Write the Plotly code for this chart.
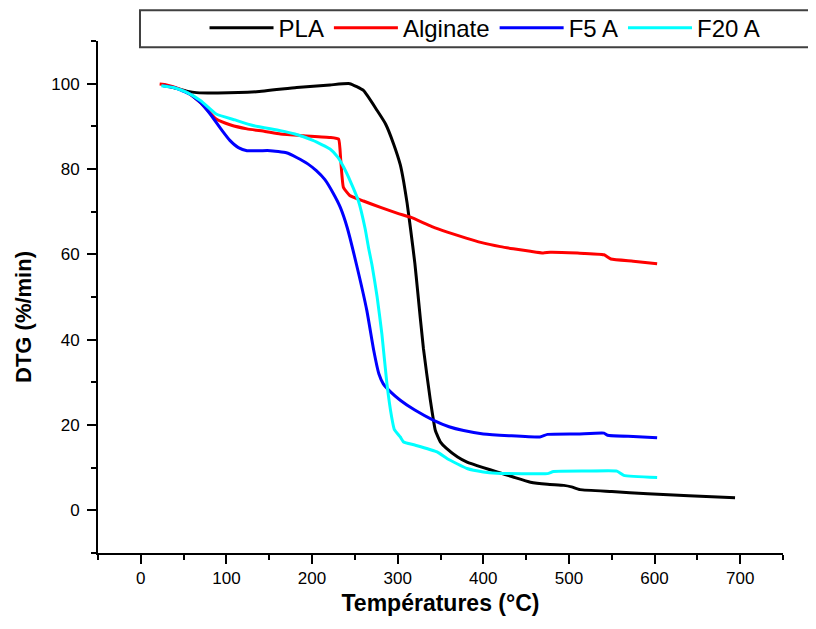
import plotly.graph_objects as go

# ---- data ----
pla_x = [25, 40, 55, 65, 90, 135, 182, 221, 244, 260, 276, 286, 295, 303, 307, 311, 315, 320, 323, 330,
         338, 344, 350, 357, 370, 381, 400, 416, 435, 455, 475, 494, 503, 513, 550, 592, 640, 694]
pla_y = [99.8, 99.0, 98.2, 97.9, 97.8, 98.1, 99.1, 99.7, 100.0, 98.4, 93.7, 90.5, 86.0, 81.0, 77.0, 72.0,
         66.0, 58.0, 52.0, 38.0, 26.0, 18.7, 16.0, 14.5, 12.5, 11.3, 10.0, 9.0, 7.8, 6.6, 6.1, 5.85, 5.5,
         4.85, 4.4, 3.9, 3.4, 2.97]

alg_x = [22, 30, 45, 57, 70, 88, 105, 124, 145, 163, 190, 221, 231, 233.5, 236.6, 244, 260, 280, 300, 315,
         340, 358, 380, 397, 420, 435, 455, 470, 478, 510, 541, 549, 575, 603]
alg_y = [99.9, 99.7, 98.8, 97.6, 95.5, 91.7, 90.3, 89.4, 88.8, 88.2, 87.8, 87.4, 87.0, 82.0, 75.7, 73.8,
         72.5, 71.0, 69.6, 68.7, 66.5, 65.2, 63.8, 62.8, 61.8, 61.3, 60.7, 60.3, 60.5, 60.3, 59.9, 58.9,
         58.4, 57.8]

f5_x = [26, 40, 57, 70, 81, 95, 104, 114, 124, 140, 151, 170, 182, 195, 205, 215, 225, 233, 241, 252, 264,
        272, 278, 283, 292, 303, 320, 342, 360, 377, 400, 430, 466, 475, 510, 541, 545, 575, 603]
f5_y = [99.5, 99.0, 97.6, 95.5, 92.9, 89.0, 86.7, 85.0, 84.3, 84.3, 84.3, 83.8, 82.7, 81.2, 79.6, 77.5,
        74.2, 71.0, 66.3, 57.5, 46.8, 37.5, 32.0, 29.7, 27.7, 25.8, 23.5, 21.1, 19.6, 18.7, 17.9, 17.5,
        17.2, 17.8, 17.9, 18.1, 17.6, 17.3, 17.0]

f20_x = [24, 40, 53, 70, 88, 110, 131, 163, 180, 201, 221, 230, 237, 245, 254, 262, 266, 270, 276, 281.5,
         287.4, 293, 296, 303, 307, 320, 346, 358, 381, 400, 416, 445, 475, 482, 520, 556, 564, 603]
f20_y = [99.5, 99.0, 98.0, 96.0, 92.9, 91.5, 90.2, 89.0, 88.2, 86.7, 84.7, 82.8, 80.4, 77.0, 72.6, 66.0,
         61.5, 57.5, 50.0, 41.4, 29.7, 21.8, 19.0, 17.2, 16.0, 15.3, 13.7, 12.1, 9.8, 9.0, 8.7, 8.6, 8.6,
         9.1, 9.2, 9.2, 8.2, 7.7]

series_names = ["PLA", "Alginate", "F5 A", "F20 A"]
series_colors = ["#000000", "#ff0000", "#0000ff", "#00ffff"]

x_ticks = [0, 100, 200, 300, 400, 500, 600, 700]
y_ticks = [0, 20, 40, 60, 80, 100]

FONT = "Liberation Sans, Arial, sans-serif"

fig = go.Figure()
for name, xs, ys, col in zip(series_names, [pla_x, alg_x, f5_x, f20_x], [pla_y, alg_y, f5_y, f20_y],
                             series_colors):
    fig.add_trace(go.Scatter(x=xs, y=ys, name=name, mode="lines",
                             line=dict(color=col, width=3, shape="spline", smoothing=0.4)))

axis_common = dict(showline=True, linecolor="black", linewidth=2, ticks="outside", ticklen=9,
                   tickwidth=2, tickcolor="black", showgrid=False, zeroline=False, automargin=False,
                   tickfont=dict(family=FONT, size=17, color="black"))

fig.update_xaxes(range=[-50, 750], tickmode="array", tickvals=x_ticks,
                 minor=dict(ticks="outside", ticklen=5, tickwidth=2, tickcolor="black", dtick=50, tick0=0),
                 title=dict(text="<b>Températures (°C)</b>", font=dict(family=FONT, size=23, color="black"),
                            standoff=7),
                 **axis_common)
fig.update_yaxes(range=[-10, 110], tickmode="array", tickvals=y_ticks,
                 minor=dict(ticks="outside", ticklen=5, tickwidth=2, tickcolor="black", dtick=10, tick0=0),
                 ticklabelstandoff=4,
                 **axis_common)

# y-axis title (placed slightly below centre, as in the reference)
fig.add_annotation(text="<b>DTG (%/min)</b>", xref="paper", yref="paper", x=-0.108, y=0.461,
                   xanchor="center", yanchor="middle", textangle=-90, showarrow=False,
                   font=dict(family=FONT, size=22, color="black"))

# legend frame
fig.add_shape(type="rect", xref="paper", yref="paper", x0=0.0613, x1=1.2, y0=0.988, y1=1.06,
              line=dict(color="#404040", width=2), fillcolor="white", layer="below")

fig.update_layout(
    width=800, height=613,
    margin=dict(l=90, r=25, t=33, b=68, autoexpand=False),
    paper_bgcolor="white", plot_bgcolor="white",
    font=dict(family=FONT, color="black"),
    showlegend=True,
    legend=dict(orientation="h", x=0.565, xanchor="center", y=1.025, yanchor="middle",
                bgcolor="rgba(0,0,0,0)", borderwidth=0, font=dict(family=FONT, size=24, color="black"),
                itemwidth=64, tracegroupgap=0),
)

fig.write_html("out.html")
